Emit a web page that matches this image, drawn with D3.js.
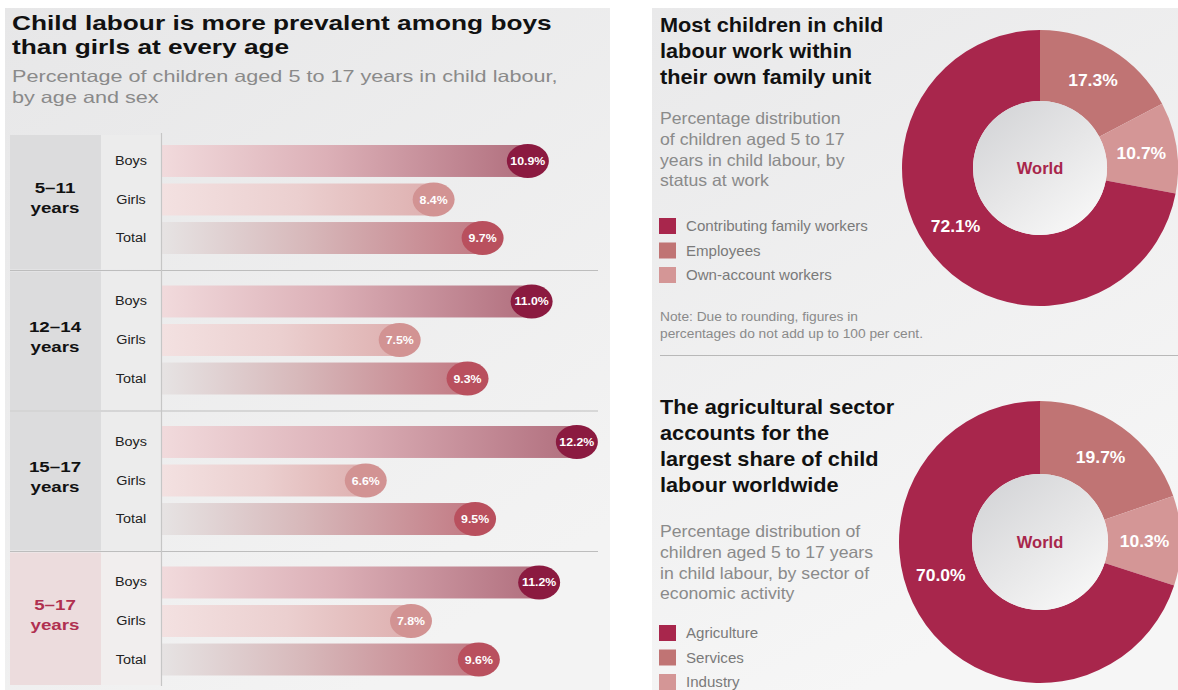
<!DOCTYPE html>
<html>
<head>
<meta charset="utf-8">
<script src="https://cdn.jsdelivr.net/npm/d3@7/dist/d3.min.js"></script>
<style>
  html, body { margin: 0; padding: 0; background: #ffffff; }
  svg { display: block; font-family: "Liberation Sans", Arial, Helvetica, sans-serif; }
</style>
</head>
<body>
<svg id="chart" width="1178" height="690"></svg>
<script>
// ---- data ----
const ageGroups = ["5–11", "12–14", "15–17", "5–17"];
const sexes = ["Boys", "Girls", "Total"];
const boysPct = [10.9, 11.0, 12.2, 11.2];
const girlsPct = [8.4, 7.5, 6.6, 7.8];
const totalPct = [9.7, 9.3, 9.5, 9.6];

const statusLabels = ["Contributing family workers", "Employees", "Own-account workers"];
const statusPct = [72.1, 17.3, 10.7];
const sectorLabels = ["Agriculture", "Services", "Industry"];
const sectorPct = [70.0, 19.7, 10.3];

// ---- setup ----
const svg = d3.select("#chart");
const defs = svg.append("defs");

function linGrad(id, stops, x2 = "100%", y2 = "0%") {
  const g = defs.append("linearGradient").attr("id", id)
    .attr("x1", "0%").attr("y1", "0%").attr("x2", x2).attr("y2", y2);
  stops.forEach(([o, c]) => g.append("stop").attr("offset", o).attr("stop-color", c));
  return `url(#${id})`;
}

// widen a text element horizontally by factor k (the type is set slightly wide)
function widen(sel, k) {
  sel.each(function () {
    const len = this.getComputedTextLength();
    d3.select(this).attr("textLength", len * k).attr("lengthAdjust", "spacingAndGlyphs");
  });
  return sel;
}

const panelLeftFill = linGrad("panelL", [[0, "#e7e7e8"], [1, "#f3f3f3"]], "60%", "100%");
const panelRightFill = linGrad("panelR", [[0, "#e9e9ea"], [1, "#f6f6f6"]], "40%", "100%");

// panels
svg.append("rect").attr("x", 5).attr("y", 8).attr("width", 605).attr("height", 682).attr("fill", panelLeftFill);
svg.append("rect").attr("x", 652).attr("y", 8).attr("width", 526).attr("height", 682).attr("fill", panelRightFill);

// ---- left panel: bars by age and sex ----
const L = svg.append("g");
const WL = 1.25;

widen(L.append("text").attr("x", 12).attr("y", 30)
  .attr("font-size", 21).attr("font-weight", "bold").attr("fill", "#111")
  .text("Child labour is more prevalent among boys"), 1.25);
widen(L.append("text").attr("x", 12).attr("y", 54)
  .attr("font-size", 21).attr("font-weight", "bold").attr("fill", "#111")
  .text("than girls at every age"), 1.25);
widen(L.append("text").attr("x", 12).attr("y", 82)
  .attr("font-size", 16.5).attr("fill", "#8a8a8a")
  .text("Percentage of children aged 5 to 17 years in child labour,"), 1.31);
widen(L.append("text").attr("x", 12).attr("y", 103)
  .attr("font-size", 16.5).attr("fill", "#8a8a8a")
  .text("by age and sex"), 1.31);

const yGroup = d3.scaleBand().domain(ageGroups).range([130, 692]);
const ySex = d3.scaleBand().domain(sexes).range([15, 124]).paddingInner(0.17).paddingOuter(0);
const x = d3.scaleLinear().domain([0, 13]).range([117, 607]);
const barX0 = 162;
const tableTop = 135, tableBottom = 685;

const valuesBySex = { Boys: boysPct, Girls: girlsPct, Total: totalPct };
const barGrad = {
  Boys: linGrad("gBoys", [[0, "#f1dadc"], [0.45, "#dcb0b7"], [1, "#b16f7e"]]),
  Girls: linGrad("gGirls", [[0, "#f3e1e1"], [0.5, "#ebcfcf"], [1, "#deb0b0"]]),
  Total: linGrad("gTotal", [[0, "#e6e3e3"], [0.45, "#d7b8ba"], [1, "#c27a84"]])
};
const dotFill = { Boys: "#8b1a40", Girls: "#d29393", Total: "#b9505e" };

ageGroups.forEach((grp, gi) => {
  const top = yGroup(grp);
  const y0 = Math.max(top + 1, tableTop);
  const y1 = Math.min(top + yGroup.bandwidth() - 1, tableBottom);
  const isAll = gi === ageGroups.length - 1;

  // age cell
  L.append("rect").attr("x", 10).attr("y", y0).attr("width", 91).attr("height", y1 - y0)
    .attr("fill", isAll ? "#ecdcdd" : "#dcdcdd");
  // sex label cell
  L.append("rect").attr("x", 101).attr("y", y0).attr("width", 60).attr("height", y1 - y0)
    .attr("fill", isAll ? "#f1eeee" : "#ececec");

  const cy = (y0 + y1) / 2;
  widen(L.append("text").attr("x", 55).attr("y", cy - 9)
    .attr("text-anchor", "middle").attr("font-size", 15).attr("font-weight", "bold")
    .attr("fill", isAll ? "#b03050" : "#111").text(grp), WL);
  widen(L.append("text").attr("x", 55).attr("y", cy + 11)
    .attr("text-anchor", "middle").attr("font-size", 15).attr("font-weight", "bold")
    .attr("fill", isAll ? "#b03050" : "#111").text("years"), WL);

  sexes.forEach(sx => {
    const v = valuesBySex[sx][gi];
    const by = top + ySex(sx);
    const bh = ySex.bandwidth();
    const cx = x(v);
    widen(L.append("text").attr("x", 131).attr("y", by + bh / 2 + 4)
      .attr("text-anchor", "middle").attr("font-size", 12).attr("fill", "#222").text(sx), 1.2);
    L.append("rect").attr("x", barX0).attr("y", by).attr("width", cx - barX0).attr("height", bh)
      .attr("fill", barGrad[sx]);
    L.append("ellipse").attr("cx", cx).attr("cy", by + bh / 2).attr("rx", 21).attr("ry", 17)
      .attr("fill", dotFill[sx]);
    widen(L.append("text").attr("x", cx).attr("y", by + bh / 2 + 4)
      .attr("text-anchor", "middle").attr("font-size", 11).attr("font-weight", "bold")
      .attr("fill", "#fff").text(v.toFixed(1) + "%"), 1.12);
  });

  if (gi > 0) {
    L.append("line").attr("x1", 10).attr("x2", 598).attr("y1", top).attr("y2", top)
      .attr("stroke", "#bdbdbd").attr("stroke-width", 1.2);
  }
});

L.append("line").attr("x1", 161.5).attr("x2", 161.5).attr("y1", 133).attr("y2", 686)
  .attr("stroke", "#c6c6c6").attr("stroke-width", 1.2);

// ---- right panel: donuts ----
const sliceColors = ["#a8264c", "#c07474", "#d49696"];
const innerFill = linGrad("innerG", [[0, "#d0d1d4"], [0.55, "#e6e6e7"], [1, "#f8f8f8"]], "80%", "100%");

function donutBlock(opts) {
  const g = svg.append("g");
  opts.title.forEach((t, i) => {
    widen(g.append("text").attr("x", 660).attr("y", opts.titleY + i * 26)
      .attr("font-size", 20.5).attr("font-weight", "bold").attr("fill", "#111").text(t), 1.06);
  });
  opts.sub.forEach((t, i) => {
    widen(g.append("text").attr("x", 660).attr("y", opts.subY + i * 20.8)
      .attr("font-size", 16.5).attr("fill", "#8a8a8a").text(t), 1.07);
  });
  opts.labels.forEach((t, i) => {
    const ly = opts.legendY + i * 24.5;
    g.append("rect").attr("x", 659).attr("y", ly - 8).attr("width", 17).attr("height", 16)
      .attr("fill", sliceColors[i]);
    widen(g.append("text").attr("x", 686).attr("y", ly + 5)
      .attr("font-size", 14.5).attr("fill", "#7a7a7a").text(t), 1.04);
  });

  // slices drawn clockwise from 12 o'clock: second, third, then first category
  const order = [1, 2, 0];
  const pie = d3.pie().sort(null).value(i => opts.values[i]);
  const arcs = pie(order);
  const arc = d3.arc().innerRadius(opts.r0).outerRadius(opts.r1);
  const c = g.append("g").attr("transform", `translate(${opts.cx},${opts.cy})`);
  c.selectAll("path").data(arcs).join("path")
    .attr("d", arc).attr("fill", d => sliceColors[d.data]);
  c.append("circle").attr("r", opts.r0).attr("fill", innerFill);

  // label position along each slice (the large slice's label sits a little past its middle)
  const labelAt = d => {
    const f = d.data === 0 ? opts.bigLabelFrac : 0.5;
    const a = d.startAngle + (d.endAngle - d.startAngle) * f;
    const r = (opts.r0 + opts.r1) / 2;
    return [Math.sin(a) * r, -Math.cos(a) * r];
  };
  c.selectAll("text.pct").data(arcs).join("text").attr("class", "pct")
    .attr("transform", d => {
      const [px, py] = labelAt(d);
      return `translate(${px},${py + 6})`;
    })
    .attr("text-anchor", "middle").attr("font-size", 16.5).attr("font-weight", "bold")
    .attr("fill", "#fff").text(d => opts.values[d.data].toFixed(1) + "%")
    .call(widen, 1.06);
  c.append("text").attr("y", 6).attr("text-anchor", "middle")
    .attr("font-size", 16.5).attr("font-weight", "bold").attr("fill", "#a8264c").text("World");
  return g;
}

const top1 = donutBlock({
  title: ["Most children in child", "labour work within", "their own family unit"],
  titleY: 32,
  sub: ["Percentage distribution", "of children aged 5 to 17", "years in child labour, by", "status at work"],
  subY: 124,
  labels: statusLabels, values: statusPct,
  legendY: 226,
  cx: 1040, cy: 168, r0: 67, r1: 138, bigLabelFrac: 0.52
});
widen(top1.append("text").attr("x", 660).attr("y", 321).attr("font-size", 12.5).attr("fill", "#8a8a8a")
  .text("Note: Due to rounding, figures in"), 1.1);
widen(top1.append("text").attr("x", 660).attr("y", 338).attr("font-size", 12.5).attr("fill", "#8a8a8a")
  .text("percentages do not add up to 100 per cent."), 1.1);
svg.append("line").attr("x1", 660).attr("x2", 1178).attr("y1", 355.5).attr("y2", 355.5)
  .attr("stroke", "#b8b8b8").attr("stroke-width", 1.2);

donutBlock({
  title: ["The agricultural sector", "accounts for the", "largest share of child", "labour worldwide"],
  titleY: 414,
  sub: ["Percentage distribution of", "children aged 5 to 17 years", "in child labour, by sector of", "economic activity"],
  subY: 537,
  labels: sectorLabels, values: sectorPct,
  legendY: 633,
  cx: 1040, cy: 542, r0: 68, r1: 141, bigLabelFrac: 0.57
});
</script>
</body>
</html>
